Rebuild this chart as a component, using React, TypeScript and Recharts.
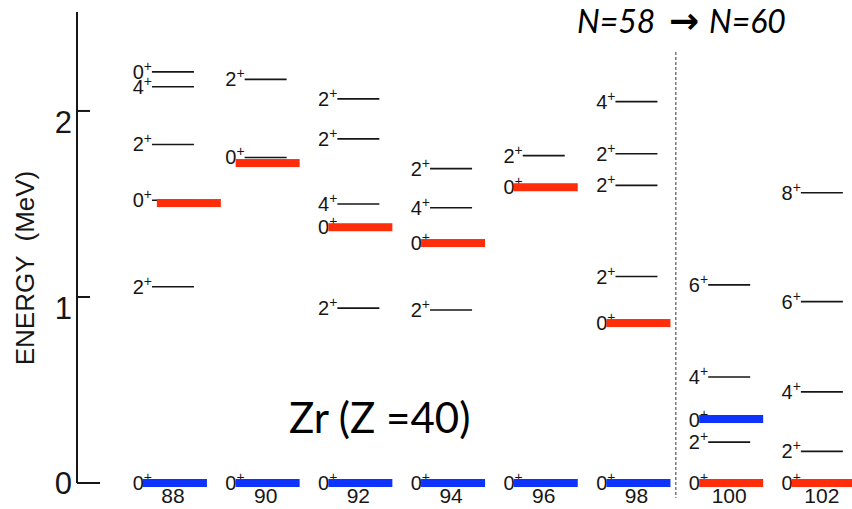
import { ScatterChart, Scatter, XAxis, YAxis, ReferenceLine } from 'recharts';

// mass numbers of the Zr isotopes shown, one column each
const massNumbers = [88, 90, 92, 94, 96, 98, 100, 102];
const energyTicks = [0, 1, 2];

// level energies in MeV with spin (all positive parity)
const zr88 = [
  { e: 0, j: '0' },
  { e: 1.055, j: '2' },
  { e: 1.52, j: '0' },
  { e: 1.82, j: '2' },
  { e: 2.13, j: '4' },
  { e: 2.21, j: '0' }
];
const zr90 = [
  { e: 0, j: '0' },
  { e: 1.75, j: '0' },
  { e: 2.17, j: '2' }
];
const zr92 = [
  { e: 0, j: '0' },
  { e: 0.94, j: '2' },
  { e: 1.375, j: '0' },
  { e: 1.5, j: '4' },
  { e: 1.85, j: '2' },
  { e: 2.065, j: '2' }
];
const zr94 = [
  { e: 0, j: '0' },
  { e: 0.93, j: '2' },
  { e: 1.29, j: '0' },
  { e: 1.48, j: '4' },
  { e: 1.69, j: '2' }
];
const zr96 = [
  { e: 0, j: '0' },
  { e: 1.59, j: '0' },
  { e: 1.76, j: '2' }
];
const zr98 = [
  { e: 0, j: '0' },
  { e: 0.86, j: '0' },
  { e: 1.11, j: '2' },
  { e: 1.6, j: '2' },
  { e: 1.77, j: '2' },
  { e: 2.05, j: '4' }
];
const zr100 = [
  { e: 0, j: '0' },
  { e: 0.22, j: '2' },
  { e: 0.34, j: '0' },
  { e: 0.57, j: '4' },
  { e: 1.065, j: '6' }
];
const zr102 = [
  { e: 0, j: '0' },
  { e: 0.17, j: '2' },
  { e: 0.49, j: '4' },
  { e: 0.975, j: '6' },
  { e: 1.56, j: '8' }
];
const isotopeLevels = [zr88, zr90, zr92, zr94, zr96, zr98, zr100, zr102];

// highlighted 0+ states (red = deformed-like, blue = spherical-like)
const redMass = [88.3, 90, 92, 94, 96, 98, 100, 102];
const redEnergy = [1.505, 1.72, 1.375, 1.29, 1.59, 0.86, 0, 0];
const blueMass = [88, 90, 92, 94, 96, 98, 100];
const blueEnergy = [0, 0, 0, 0, 0, 0, 0.344];

// N=58 -> N=60 boundary
const boundaryMass = 98.85;
const boundaryRange = [2.317, -0.08];

const levelPoints = isotopeLevels.flatMap((levels, i) =>
  levels.map((lv) => ({ x: massNumbers[i], y: lv.e, j: lv.j }))
);
const redPoints = redMass.map((x, i) => ({ x, y: redEnergy[i] }));
const bluePoints = blueMass.map((x, i) => ({ x, y: blueEnergy[i] }));

const INK = '#161616';
const SCAN_FONT = '"Liberation Sans", Arial, sans-serif';
const SLIDE_FONT = 'Lato, sans-serif';

const LevelShape = (props: any) => {
  const { cx, cy, payload } = props;
  return (
    <g>
      <line x1={cx - 21} x2={cx + 21} y1={cy} y2={cy} stroke={INK} strokeWidth={1.6} />
      <text x={cx - 21} y={cy + 7} textAnchor="end" fontSize={20} fontFamily={SCAN_FONT} fill={INK}>
        {payload.j}
        <tspan dy={-8} fontSize={14}>+</tspan>
      </text>
    </g>
  );
};

const makeBar = (color: string) => (props: any) =>
  <rect x={props.cx - 30} y={props.cy - 4} width={64} height={8} fill={color} />;

const EnergyTick = (props: any) => {
  const { x, y, payload } = props;
  const dy = payload.value === 0 ? 11 : 22;
  const len = payload.value === 0 ? 23 : 13;
  return (
    <g>
      <line x1={x + 5} x2={x + 5 + len} y1={y} y2={y} stroke={INK} strokeWidth={2} />
      <text x={x} y={y + dy} textAnchor="end" fontSize={31} fontFamily={SCAN_FONT} fill={INK}>
        {payload.value}
      </text>
    </g>
  );
};

const MassTick = (props: any) => {
  const { x, y, payload } = props;
  return (
    <text x={x} y={y + 20} textAnchor="middle" fontSize={21} fontFamily={SCAN_FONT} fill={INK}>
      {payload.value}
    </text>
  );
};

export default function App() {
  return (
    <div
      style={{
        position: 'absolute',
        left: 0,
        top: 0,
        width: 852,
        height: 509,
        overflow: 'hidden',
        background: '#fff'
      }}
    >
      <ScatterChart width={852} height={509} margin={{ top: 12, right: 0, left: 0, bottom: 0 }}>
        <XAxis
          type="number"
          dataKey="x"
          domain={[85.93, 102.65]}
          ticks={massNumbers}
          axisLine={false}
          tickLine={false}
          tickSize={0}
          tickMargin={0}
          height={26}
          tick={<MassTick />}
        />
        <YAxis
          type="number"
          dataKey="y"
          domain={[0, 2.532]}
          ticks={energyTicks}
          width={77}
          tickSize={0}
          tickMargin={5}
          tickLine={false}
          axisLine={{ stroke: INK, strokeWidth: 2 }}
          tick={<EnergyTick />}
        />
        <ReferenceLine
          segment={[
            { x: boundaryMass, y: boundaryRange[0] },
            { x: boundaryMass, y: boundaryRange[1] }
          ]}
          ifOverflow="visible"
          stroke="#333"
          strokeWidth={1}
          strokeDasharray="3 2"
        />
        <Scatter data={levelPoints} shape={<LevelShape />} isAnimationActive={false} />
        <Scatter data={redPoints} shape={makeBar('#ff2d0a')} isAnimationActive={false} />
        <Scatter data={bluePoints} shape={makeBar('#0f33ff')} isAnimationActive={false} />
      </ScatterChart>
      <svg
        width={852}
        height={509}
        style={{ position: 'absolute', left: 0, top: 0, pointerEvents: 'none' }}
      >
        <text
          x={25}
          y={268}
          transform="rotate(-90 25 268)"
          textAnchor="middle"
          dominantBaseline="central"
          fontSize={26}
          fontFamily={SCAN_FONT}
          fill={INK}
          style={{ whiteSpace: 'pre' }}
        >
          ENERGY  (MeV)
        </text>
        <text x={289} y={433} fontSize={42} fontFamily={SLIDE_FONT} fill="#000">
          Zr (Z =40)
        </text>
        <text y={33} fontSize={32} fontStyle="italic" fontFamily={SLIDE_FONT} fill="#000">
          <tspan x={577}>N=58</tspan>
          <tspan x={669} fontSize={36} fontStyle="normal" fontWeight="bold" fontFamily="DejaVu Sans, sans-serif">→</tspan>
          <tspan x={709}>N=60</tspan>
        </text>
      </svg>
    </div>
  );
}
